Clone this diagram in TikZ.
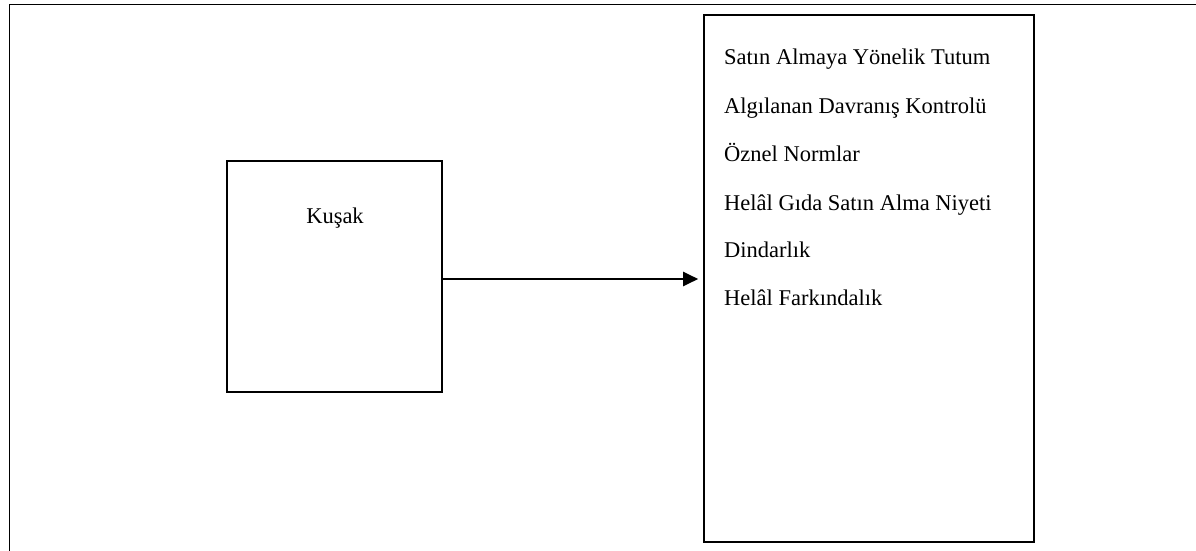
\documentclass[tikz,border=0pt]{standalone}
\usepackage{fontspec}
\setmainfont{Liberation Serif}
\usetikzlibrary{arrows.meta}
\tikzset{
  frameline/.style={line width=1.8pt, draw=black},
  boxnode/.style={draw=black, line width=1.6pt, rectangle, inner sep=0pt},
  itemtext/.style={anchor=base west, inner sep=0pt, font=\fontsize{22.5}{26}\selectfont},
  labeltext/.style={anchor=base, inner sep=0pt, font=\fontsize{22.5}{26}\selectfont},
  linkarrow/.style={line width=2pt, -{Triangle[length=15pt,width=14pt]}, shorten >=5pt}
}
\begin{document}
\begin{tikzpicture}[x=1pt,y=-1pt]
\useasboundingbox (0,0) rectangle (1196,551);
\coordinate (fbl) at (9.5,553);
\coordinate (ftl) at (9.5,4.5);
\coordinate (ftr) at (1198,4.5);
\draw[frameline] (fbl) -- (ftl) -- (ftr);
\node[boxnode, minimum width=215pt, minimum height=231pt] (lb) at (334.5,276.5) {};
\node[boxnode, minimum width=330pt, minimum height=527pt] (rb) at (869,278.5) {};
\node[labeltext] (kusak) at (335,223) {Kuşak};
\node[itemtext] (t1) at (724,65) {Satın Almaya Yönelik Tutum};
\node[itemtext] (t2) at (724,113) {Algılanan Davranış Kontrolü};
\node[itemtext] (t3) at (724,161) {Öznel Normlar};
\node[itemtext] (t4) at (724,210) {Helâl Gıda Satın Alma Niyeti};
\node[itemtext] (t5) at (724,257) {Dindarlık};
\node[itemtext] (t6) at (724,305) {Helâl Farkındalık};
\draw[linkarrow] (lb.east |- 0,279) -- (rb.west |- 0,279);
\end{tikzpicture}
\end{document}
